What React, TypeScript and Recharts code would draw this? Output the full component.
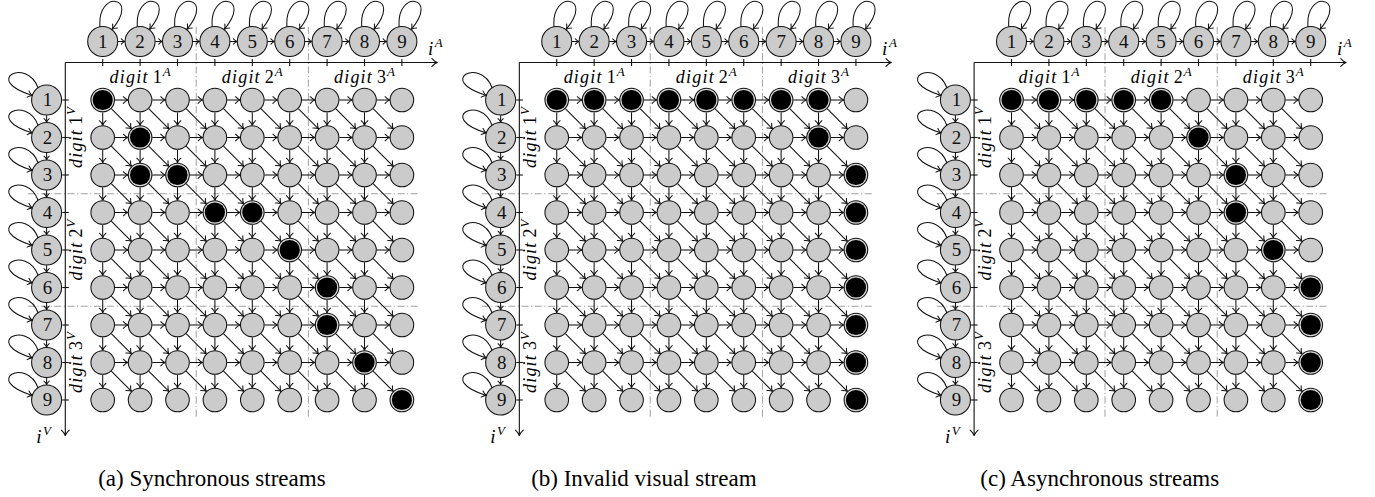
import React from 'react';
import { ScatterChart, Scatter, XAxis, YAxis, ReferenceLine } from 'recharts';

const CHART_W = 1375;
const CHART_H = 497;
const X_DOMAIN: [number, number] = [-1.746, 35.019];
const Y_DOMAIN: [number, number] = [-1.667, 11.587];

const COLS = [1, 2, 3, 4, 5, 6, 7, 8, 9];
const ROWS = [1, 2, 3, 4, 5, 6, 7, 8, 9];
const NODE_NUMBERS = ['1', '2', '3', '4', '5', '6', '7', '8', '9'];
const PANEL_OFFSETS = [0, 12.14, 24.3];
const CAPTIONS = ['(a) Synchronous streams', '(b) Invalid visual stream', '(c) Asynchronous streams'];
const CAPTION_X = [3.92, 3.33, 3.36];
const CAPTION_Y = 11.3;
const DIGIT_WORD = 'digit';
const DIGIT_NUMS = ['1', '2', '3'];
const DIGIT_CENTERS = [2, 5, 8];
const SEPARATORS = [3.5, 6.5];
const TOP_NODE_Y = -0.56;
const LEFT_NODE_X = -0.5;
const AXIS_ORIGIN = 0;
const AXIS_END = 9.95;
const A_LABEL_Y = 0.55;
const V_LABEL_X = 0.45;
const I_A_POS = [9.7, -0.2];
const I_V_POS = [-0.78, 10.15];
const SEP_START = -0.95;
const SEP_END = 9.47;

// [row, col] of the black (aligned) cells in each panel
const BLACK_A = [[1, 1], [2, 2], [3, 2], [3, 3], [4, 4], [4, 5], [5, 6], [6, 7], [7, 7], [8, 8], [9, 9]];
const BLACK_B = [[1, 1], [1, 2], [1, 3], [1, 4], [1, 5], [1, 6], [1, 7], [1, 8], [2, 8], [3, 9], [4, 9], [5, 9], [6, 9], [7, 9], [8, 9], [9, 9]];
const BLACK_C = [[1, 1], [1, 2], [1, 3], [1, 4], [1, 5], [2, 6], [3, 7], [4, 7], [5, 8], [6, 9], [7, 9], [8, 9], [9, 9]];
const BLACK_CELLS = [BLACK_A, BLACK_B, BLACK_C];

const INK = '#111111';
const GRAY = '#cbcbcb';
const SEP_COLOR = '#a0a0a0';
const SERIF = '"Liberation Serif", "Times New Roman", serif';
const SERIF_STYLE = { fontFamily: SERIF };

const GRID_R = 11.8;
const NODE_R = 15;
const SW = 1.05;

function headPath(ex: number, ey: number, ux: number, uy: number, s: number) {
  const nx = -uy;
  const ny = ux;
  const w = s * 0.72;
  const bx = ex - ux * s;
  const by = ey - uy * s;
  const p1x = bx + nx * w, p1y = by + ny * w;
  const p2x = bx - nx * w, p2y = by - ny * w;
  const c1x = ex - ux * s * 0.45 + nx * w * 0.15, c1y = ey - uy * s * 0.45 + ny * w * 0.15;
  const c2x = ex - ux * s * 0.45 - nx * w * 0.15, c2y = ey - uy * s * 0.45 - ny * w * 0.15;
  return `M${p1x},${p1y} Q${c1x},${c1y} ${ex},${ey} Q${c2x},${c2y} ${p2x},${p2y}`;
}

const makeArrow = (g1: number, g2: number, hs: number, sw = SW) => (p: any) => {
  const { x1, y1, x2, y2 } = p;
  const dx = x2 - x1;
  const dy = y2 - y1;
  const L = Math.hypot(dx, dy);
  if (!L || !isFinite(L)) return <g />;
  const ux = dx / L;
  const uy = dy / L;
  const sx = x1 + ux * g1, sy = y1 + uy * g1;
  const ex = x2 - ux * g2, ey = y2 - uy * g2;
  return (
    <g>
      <line x1={sx} y1={sy} x2={ex} y2={ey} stroke={INK} strokeWidth={sw} />
      <path d={headPath(ex, ey, ux, uy, hs)} fill="none" stroke={INK} strokeWidth={sw} strokeLinecap="round" />
    </g>
  );
};

const gridArrow = makeArrow(GRID_R + 0.4, GRID_R + 0.4, 4.6);
const nodeArrow = makeArrow(NODE_R + 0.2, NODE_R + 0.2, 3.6);
const axisArrow = makeArrow(0, 0, 5.5, 1.1);

function GridNode(p: any) {
  const { cx, cy, payload } = p;
  if (payload.black) {
    return (
      <g>
        <circle cx={cx} cy={cy} r={GRID_R} fill="#dcdcdc" stroke={INK} strokeWidth={1.1} />
        <circle cx={cx} cy={cy} r={GRID_R - 1.7} fill="#000" />
      </g>
    );
  }
  return <circle cx={cx} cy={cy} r={GRID_R} fill={GRAY} stroke={INK} strokeWidth={SW} />;
}

function loopWithHead(cx: number, cy: number, pts: number[][]) {
  const [p0, p1, p2, p3] = pts;
  const d = `M${cx + p0[0]},${cy + p0[1]} C${cx + p1[0]},${cy + p1[1]} ${cx + p2[0]},${cy + p2[1]} ${cx + p3[0]},${cy + p3[1]}`;
  const dx = p3[0] - p2[0];
  const dy = p3[1] - p2[1];
  const L = Math.hypot(dx, dy);
  return (
    <g>
      <path d={d} fill="none" stroke={INK} strokeWidth={SW} />
      <path d={headPath(cx + p3[0], cy + p3[1], dx / L, dy / L, 4.4)} fill="none" stroke={INK} strokeWidth={SW} strokeLinecap="round" />
    </g>
  );
}

function TopNode(p: any) {
  const { cx, cy, payload } = p;
  return (
    <g>
      {loopWithHead(cx, cy, [[-2.7, -14.6], [-6, -52], [38, -46], [9.5, -12.2]])}
      <circle cx={cx} cy={cy} r={NODE_R} fill={GRAY} stroke={INK} strokeWidth={SW} />
      <text x={cx} y={cy + 6.3} textAnchor="middle" fontFamily={SERIF} style={SERIF_STYLE} fontSize={19} fill="#111">{payload.label}</text>
    </g>
  );
}

function LeftNode(p: any) {
  const { cx, cy, payload } = p;
  return (
    <g>
      {loopWithHead(cx, cy, [[-8.6, -12.3], [-20, -43], [-65, -20], [-14.3, -4.6]])}
      <circle cx={cx} cy={cy} r={NODE_R} fill={GRAY} stroke={INK} strokeWidth={SW} />
      <text x={cx + 1} y={cy + 6.3} textAnchor="middle" fontFamily={SERIF} style={SERIF_STYLE} fontSize={19} fill="#111">{payload.label}</text>
    </g>
  );
}

function TopTick(p: any) {
  const { cx, cy } = p;
  return <line x1={cx} y1={cy - 3.5} x2={cx} y2={cy + 3.5} stroke={INK} strokeWidth={1.1} />;
}

function LeftTick(p: any) {
  const { cx, cy } = p;
  return <line x1={cx - 3} x2={cx + 3.5} y1={cy} y2={cy} stroke={INK} strokeWidth={1.1} />;
}

function LabelShape(p: any) {
  const { cx, cy, payload: d } = p;
  if (d.kind === 'caption') {
    return (
      <text x={cx} y={cy} textAnchor="middle" fontFamily={SERIF} style={SERIF_STYLE} fontSize={23} fill="#000">{d.text}</text>
    );
  }
  if (d.kind === 'digit') {
    return (
      <text
        x={cx}
        y={cy}
        textAnchor="middle"
        fontFamily={SERIF}
        style={SERIF_STYLE}
        fontSize={18}
        fill="#000"
        transform={d.rot ? `rotate(${d.rot} ${cx} ${cy})` : undefined}
      >
        <tspan fontStyle="italic" letterSpacing={1.2}>{d.word}</tspan>
        <tspan dx={4}>{d.num}</tspan>
        <tspan fontStyle="italic" fontSize={13} dx={1} dy={-7.5}>{d.sup}</tspan>
      </text>
    );
  }
  return (
    <text x={cx} y={cy} textAnchor="start" fontFamily={SERIF} style={SERIF_STYLE} fontSize={19} fill="#000">
      <tspan fontStyle="italic">{d.text}</tspan>
      <tspan fontStyle="italic" fontSize={13} dx={1.5} dy={-8}>{d.sup}</tspan>
    </text>
  );
}

export default function App() {
  const gridNodes: any[] = [];
  const topNodes: any[] = [];
  const leftNodes: any[] = [];
  const topTicks: any[] = [];
  const leftTicks: any[] = [];
  const labels: any[] = [];
  const arrows: React.ReactNode[] = [];
  const seps: React.ReactNode[] = [];

  PANEL_OFFSETS.forEach((off, pi) => {
    const blacks = BLACK_CELLS[pi];
    ROWS.forEach((r) => {
      COLS.forEach((c) => {
        const black = blacks.some(([br, bc]) => br === r && bc === c);
        gridNodes.push({ x: c + off, y: r, black });
      });
    });
    COLS.forEach((c, i) => {
      topNodes.push({ x: c + off, y: TOP_NODE_Y, label: NODE_NUMBERS[i] });
      topTicks.push({ x: c + off, y: AXIS_ORIGIN });
    });
    ROWS.forEach((r, i) => {
      leftNodes.push({ x: LEFT_NODE_X + off, y: r, label: NODE_NUMBERS[i] });
      leftTicks.push({ x: AXIS_ORIGIN + off, y: r });
    });
    DIGIT_CENTERS.forEach((m, gi) => {
      labels.push({ x: m + off, y: A_LABEL_Y, kind: 'digit', word: DIGIT_WORD, num: DIGIT_NUMS[gi], sup: 'A', rot: 0 });
      labels.push({ x: V_LABEL_X + off, y: m, kind: 'digit', word: DIGIT_WORD, num: DIGIT_NUMS[gi], sup: 'V', rot: -90 });
    });
    labels.push({ x: I_A_POS[0] + off, y: I_A_POS[1], kind: 'axis', text: 'i', sup: 'A' });
    labels.push({ x: I_V_POS[0] + off, y: I_V_POS[1], kind: 'axis', text: 'i', sup: 'V' });
    labels.push({ x: CAPTION_X[pi] + off, y: CAPTION_Y, kind: 'caption', text: CAPTIONS[pi] });

    SEPARATORS.forEach((s, si) => {
      seps.push(
        <ReferenceLine
          key={`sv${pi}-${si}`}
          segment={[{ x: s + off, y: SEP_START }, { x: s + off, y: SEP_END }]}
          stroke={SEP_COLOR}
          strokeWidth={1}
          strokeDasharray="7 2.5 1.2 2.5"
        />
      );
      seps.push(
        <ReferenceLine
          key={`sh${pi}-${si}`}
          segment={[{ x: off - 1.0, y: s }, { x: off + 9.43, y: s }]}
          stroke={SEP_COLOR}
          strokeWidth={1}
          strokeDasharray="7 2.5 1.2 2.5"
        />
      );
    });

    // grid transitions
    for (let r = 1; r <= 8; r++) {
      for (let c = 1; c <= 8; c++) {
        const x = c + off;
        arrows.push(<ReferenceLine key={`r${pi}-${r}-${c}`} segment={[{ x, y: r }, { x: x + 1, y: r }]} shape={gridArrow} />);
        arrows.push(<ReferenceLine key={`d${pi}-${r}-${c}`} segment={[{ x, y: r }, { x, y: r + 1 }]} shape={gridArrow} />);
        arrows.push(<ReferenceLine key={`g${pi}-${r}-${c}`} segment={[{ x, y: r }, { x: x + 1, y: r + 1 }]} shape={gridArrow} />);
      }
    }
    for (let i = 1; i <= 8; i++) {
      arrows.push(<ReferenceLine key={`ta${pi}-${i}`} segment={[{ x: i + off, y: TOP_NODE_Y }, { x: i + 1 + off, y: TOP_NODE_Y }]} shape={nodeArrow} />);
      arrows.push(<ReferenceLine key={`la${pi}-${i}`} segment={[{ x: LEFT_NODE_X + off, y: i }, { x: LEFT_NODE_X + off, y: i + 1 }]} shape={nodeArrow} />);
    }
    arrows.push(<ReferenceLine key={`ax${pi}`} segment={[{ x: AXIS_ORIGIN + off, y: AXIS_ORIGIN }, { x: AXIS_END + off, y: AXIS_ORIGIN }]} shape={axisArrow} />);
    arrows.push(<ReferenceLine key={`ay${pi}`} segment={[{ x: AXIS_ORIGIN + off, y: AXIS_ORIGIN }, { x: AXIS_ORIGIN + off, y: AXIS_END }]} shape={axisArrow} />);
  });

  return (
    <div style={{ position: 'absolute', left: 0, top: 0, width: CHART_W, height: CHART_H, background: '#fff' }}>
      <ScatterChart width={CHART_W} height={CHART_H} margin={{ top: 0, right: 0, bottom: 0, left: 0 }}>
        <XAxis type="number" dataKey="x" domain={X_DOMAIN} allowDataOverflow hide />
        <YAxis type="number" dataKey="y" domain={Y_DOMAIN} allowDataOverflow reversed hide />
        {seps}
        {arrows}
        <Scatter data={topTicks} shape={TopTick} isAnimationActive={false} />
        <Scatter data={leftTicks} shape={LeftTick} isAnimationActive={false} />
        <Scatter data={gridNodes} shape={GridNode} isAnimationActive={false} />
        <Scatter data={topNodes} shape={TopNode} isAnimationActive={false} />
        <Scatter data={leftNodes} shape={LeftNode} isAnimationActive={false} />
        <Scatter data={labels} shape={LabelShape} isAnimationActive={false} />
      </ScatterChart>
    </div>
  );
}
